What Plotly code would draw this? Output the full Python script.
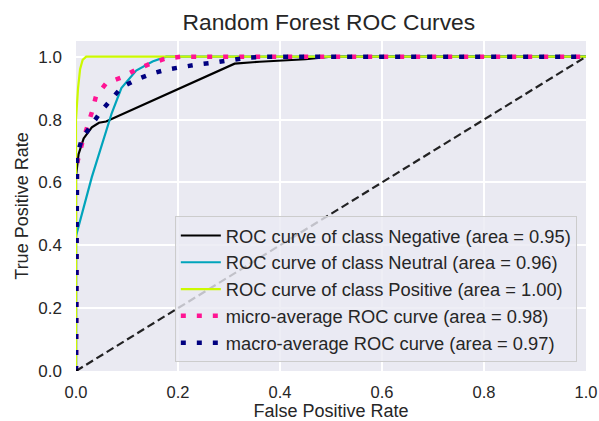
import plotly.graph_objects as go

# Data
neg_fpr = [0.0, 0.0, 0.005, 0.015, 0.031, 0.045, 0.059, 0.311, 0.36, 0.45, 0.5, 1.0]
neg_tpr = [0.0, 0.62, 0.69, 0.74, 0.775, 0.79, 0.794, 0.978, 0.984, 0.992, 1.0, 1.0]

neu_fpr = [0.0, 0.0, 0.031, 0.07, 0.089, 0.118, 0.15, 0.177, 1.0]
neu_tpr = [0.0, 0.43, 0.617, 0.82, 0.90, 0.956, 0.985, 1.0, 1.0]

pos_fpr = [0.0, 0.0, 0.004, 0.008, 0.013, 0.02, 1.0]
pos_tpr = [0.0, 0.80, 0.90, 0.96, 0.99, 1.0, 1.0]

micro_fpr = [0.0, 0.0, 0.002, 0.012, 0.022, 0.031, 0.039, 0.059, 0.089, 0.118, 0.146, 0.175, 0.206, 1.0]
micro_tpr = [0.0, 0.60, 0.66, 0.725, 0.775, 0.823, 0.873, 0.915, 0.934, 0.959, 0.978, 0.994, 1.0, 1.0]

macro_fpr = [0.0, 0.0, 0.002, 0.012, 0.03, 0.049, 0.069, 0.089, 0.118, 0.148, 0.177, 0.209, 0.238, 0.27, 0.301, 0.335, 0.37, 1.0]
macro_tpr = [0.0, 0.64, 0.687, 0.74, 0.78, 0.826, 0.864, 0.902, 0.927, 0.946, 0.959, 0.968, 0.975, 0.981, 0.99, 0.997, 1.0, 1.0]

diag_x = [0.0, 1.0]
diag_y = [0.0, 1.0]

labels = [
    "ROC curve of class Negative (area = 0.95)",
    "ROC curve of class Neutral (area = 0.96)",
    "ROC curve of class Positive (area = 1.00)",
    "micro-average ROC curve (area = 0.98)",
    "macro-average ROC curve (area = 0.97)",
]

x_ticks = [0.0, 0.2, 0.4, 0.6, 0.8, 1.0]
y_ticks = [0.0, 0.2, 0.4, 0.6, 0.8, 1.0]

FONT = "Liberation Sans, Arial, sans-serif"
TXT = "#262626"

fig = go.Figure()
series = [
    (neg_fpr, neg_tpr, "#000000", 2.2, "solid"),
    (neu_fpr, neu_tpr, "#00a4bb", 2.2, "solid"),
    (pos_fpr, pos_tpr, "#ccf900", 2.2, "solid"),
    (micro_fpr, micro_tpr, "#ff1493", 4.5, "5px,11px"),
    (macro_fpr, macro_tpr, "#000080", 4.5, "5px,11px"),
]
for i, (xs, ys, col, w, dash) in enumerate(series):
    fig.add_trace(go.Scatter(
        x=xs, y=ys, mode="lines", name=labels[i],
        line=dict(color=col, width=w, dash=dash),
    ))
fig.add_trace(go.Scatter(
    x=diag_x, y=diag_y, mode="lines", showlegend=False,
    line=dict(color="#000000", width=2.2, dash="8px,4px"), opacity=0.85,
))

fig.update_layout(
    width=599, height=421,
    margin=dict(l=76, r=13, t=41, b=50),
    paper_bgcolor="white",
    plot_bgcolor="#eaeaf2",
    font=dict(family=FONT, color=TXT, size=17),
    title=dict(text="Random Forest ROC Curves", x=0.549, xanchor="center",
               y=0.948, yanchor="middle", font=dict(size=22.8, color=TXT)),
    xaxis=dict(range=[0, 1], tickvals=x_ticks, ticktext=[f"{v:.1f}" for v in x_ticks],
               showgrid=True, gridcolor="white", gridwidth=1.5, zeroline=False,
               showline=False, ticks="", tickfont=dict(size=16.5), automargin=False,
               ticklabelstandoff=9,
               title=dict(text="False Positive Rate", font=dict(size=18), standoff=4)),
    yaxis=dict(range=[0, 1.05], tickvals=y_ticks, ticktext=[f"{v:.1f}" for v in y_ticks],
               showgrid=True, gridcolor="white", gridwidth=1.5, zeroline=False,
               showline=False, ticks="", tickfont=dict(size=17), automargin=False,
               ticklabelstandoff=13,
               title=dict(text="True Positive Rate", font=dict(size=18), standoff=5)),
    legend=dict(x=0.982, y=0.027, xanchor="right", yanchor="bottom",
                bgcolor="rgba(234,234,242,0.8)", bordercolor="#cccccc", borderwidth=1,
                font=dict(size=18.3, color=TXT), itemwidth=40),
    showlegend=True,
)

fig.write_html("out.html")
